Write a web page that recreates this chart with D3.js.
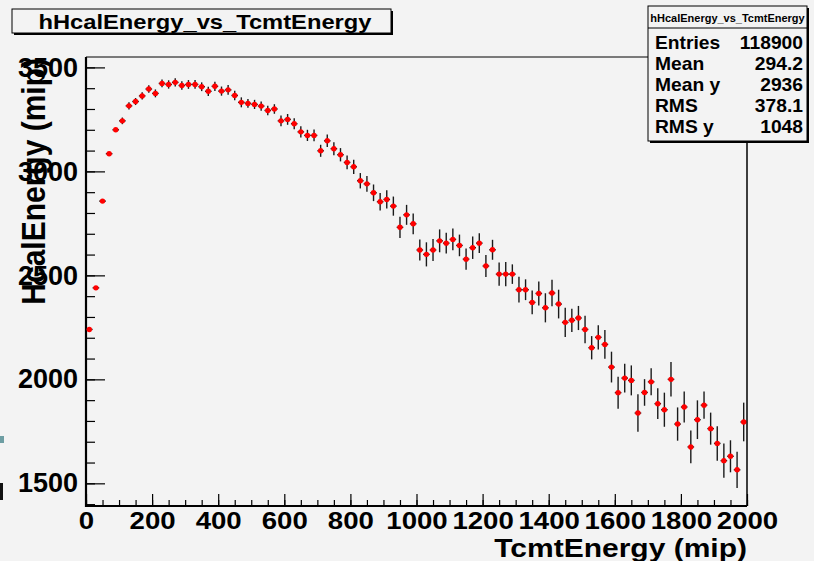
<!DOCTYPE html>
<html>
<head>
<meta charset="utf-8">
<script src="https://cdn.jsdelivr.net/npm/d3@7"></script>
<style>
  html, body { margin: 0; padding: 0; background: #f3f3f3; }
  svg { display: block; }
  text { font-family: "Liberation Sans", Arial, Helvetica, sans-serif; font-weight: bold; fill: #000; }
</style>
</head>
<body>
<svg id="chart" width="814" height="561"></svg>
<script>
// Profile of HcalEnergy vs TcmtEnergy: 100 bins of 20 mip from 0 to 2000
const binCenters = d3.range(100).map(i => 10 + 20 * i);
const binHalfWidth = 10;

const hcalMean = [
  2240, 2440, 2857, 3085, 3200, 3243, 3315, 3336, 3363, 3396,
  3375, 3423, 3418, 3428, 3413, 3418, 3418, 3407, 3385, 3409,
  3386, 3392, 3365, 3332, 3327, 3322, 3314, 3293, 3300, 3243,
  3250, 3229, 3190, 3173, 3173, 3099, 3147, 3109, 3080, 3043,
  3022, 2955, 2940, 2897, 2854, 2865, 2833, 2731, 2791, 2748,
  2622, 2601, 2622, 2666, 2655, 2673, 2644, 2578, 2633, 2655,
  2545, 2623, 2506, 2506, 2506, 2431, 2431, 2370, 2413, 2344,
  2415, 2362, 2274, 2284, 2295, 2240, 2152, 2202, 2168, 2059,
  1936, 2006, 1995, 1838, 1937, 1988, 1883, 1854, 2000, 1785,
  1867, 1675, 1806, 1876, 1763, 1692, 1609, 1630, 1565, 1795
];

const hcalErr = [
  5, 6, 6, 8, 8, 16, 17, 17, 17, 18,
  19, 19, 20, 20, 20, 21, 21, 21, 22, 22,
  22, 23, 23, 24, 21, 22, 22, 23, 23, 26,
  26, 26, 27, 27, 28, 29, 30, 31, 32, 33,
  34, 37, 38, 40, 42, 44, 46, 51, 48, 50,
  51, 58, 53, 55, 50, 52, 52, 51, 54, 47,
  53, 48, 56, 58, 47, 62, 50, 57, 58, 70,
  64, 69, 70, 56, 58, 66, 56, 58, 69, 74,
  77, 69, 72, 90, 64, 65, 74, 82, 83, 80,
  74, 79, 93, 66, 77, 83, 82, 77, 87, 93
];

const xTicks = [0, 200, 400, 600, 800, 1000, 1200, 1400, 1600, 1800, 2000];
const yTicks = [1500, 2000, 2500, 3000, 3500];

const histTitle = "hHcalEnergy_vs_TcmtEnergy";
const xTitle = "TcmtEnergy (mip)";
const yTitle = "HcalEnergy (mip)";
const statNames = ["Entries", "Mean", "Mean y", "RMS", "RMS y"];
const statValues = ["118900", "294.2", "2936", "378.1", "1048"];

const svg = d3.select("#chart");
const bg = "#f3f3f3";
svg.append("rect").attr("width", 814).attr("height", 561).attr("fill", bg);

// widen a text horizontally about its anchor point
function widen(sel, ax, s) {
  sel.attr("transform", `translate(${ax},0) scale(${s},1) translate(${-ax},0)`);
}

const frame = { left: 86, right: 747, top: 57, bottom: 506 };
const x = d3.scaleLinear().domain([0, 2000]).range([frame.left, frame.right]);
const y = d3.scaleLinear().domain([1391, 3550]).range([frame.bottom, frame.top]);

// frame border
svg.append("line").attr("x1", frame.left).attr("x2", frame.right)
  .attr("y1", frame.top).attr("y2", frame.top).attr("stroke", "#000").attr("stroke-width", 1);
svg.append("line").attr("x1", frame.right).attr("x2", frame.right)
  .attr("y1", frame.top).attr("y2", frame.bottom).attr("stroke", "#000").attr("stroke-width", 1.5);

// minor ticks
const yMinor = d3.axisLeft(y).tickValues(d3.range(1400, 3501, 100)).tickFormat("").tickSizeInner(-9).tickSizeOuter(0);
svg.append("g").attr("transform", `translate(${frame.left},0)`).call(yMinor)
  .call(g => g.select(".domain").remove())
  .call(g => g.selectAll("line").attr("stroke", "#000").attr("stroke-width", 1.2));
const xMinor = d3.axisBottom(x).tickValues(d3.range(0, 2001, 50)).tickFormat("").tickSizeInner(-6).tickSizeOuter(0);
svg.append("g").attr("transform", `translate(0,${frame.bottom})`).call(xMinor)
  .call(g => g.select(".domain").remove())
  .call(g => g.selectAll("line").attr("stroke", "#000").attr("stroke-width", 1.2));

// major ticks with labels
const yAxis = d3.axisLeft(y).tickValues(yTicks).tickFormat(d3.format("d")).tickSizeInner(-19).tickSizeOuter(0).tickPadding(8);
svg.append("g").attr("transform", `translate(${frame.left},0)`).call(yAxis)
  .call(g => g.select(".domain").remove())
  .call(g => g.selectAll("line").attr("stroke", "#000").attr("stroke-width", 1.2))
  .call(g => g.selectAll("text").attr("font-size", 27).attr("font-family", null).attr("fill", "#000"));
const xAxis = d3.axisBottom(x).tickValues(xTicks).tickFormat(d3.format("d")).tickSizeInner(-12).tickSizeOuter(0).tickPadding(6);
svg.append("g").attr("transform", `translate(0,${frame.bottom})`).call(xAxis)
  .call(g => g.select(".domain").remove())
  .call(g => g.selectAll("line").attr("stroke", "#000").attr("stroke-width", 1.2))
  .call(g => g.selectAll("text").attr("font-size", 24).attr("font-family", null).attr("fill", "#000")
    .call(t => widen(t, 0, 1.15)));

// axis lines
svg.append("line").attr("x1", frame.left).attr("x2", frame.left)
  .attr("y1", frame.top).attr("y2", frame.bottom + 1).attr("stroke", "#000").attr("stroke-width", 2.2);
svg.append("line").attr("x1", frame.left - 1).attr("x2", frame.right)
  .attr("y1", frame.bottom).attr("y2", frame.bottom).attr("stroke", "#000").attr("stroke-width", 2.2);

// profile points with error bars
const pts = binCenters.map((c, i) => ({ c, v: hcalMean[i], e: hcalErr[i] }));
const gp = svg.append("g");
gp.selectAll("line.ey").data(pts).join("line").attr("class", "ey")
  .attr("x1", d => x(d.c)).attr("x2", d => x(d.c))
  .attr("y1", d => y(d.v - d.e)).attr("y2", d => y(d.v + d.e))
  .attr("stroke", "#1a1a1a").attr("stroke-width", 1.4);
gp.selectAll("line.ex").data(pts).join("line").attr("class", "ex")
  .attr("x1", d => x(d.c - binHalfWidth)).attr("x2", d => x(d.c + binHalfWidth))
  .attr("y1", d => y(d.v)).attr("y2", d => y(d.v))
  .attr("stroke", "#1a1a1a").attr("stroke-width", 1.4);
gp.selectAll("circle").data(pts).join("circle")
  .attr("cx", d => x(d.c)).attr("cy", d => y(d.v)).attr("r", 2.7)
  .attr("fill", "#ff0000");

// axis titles
svg.append("text").attr("x", frame.right).attr("y", 557)
  .attr("text-anchor", "end").attr("font-size", 25).text(xTitle)
  .call(t => widen(t, frame.right, 1.2));
svg.append("text").attr("transform", "translate(45,58) scale(1.12,1) rotate(-90)")
  .attr("text-anchor", "end").attr("font-size", 30).text(yTitle);

// title box with shadow
svg.append("rect").attr("x", 14).attr("y", 11).attr("width", 379).attr("height", 24).attr("fill", "#000");
svg.append("rect").attr("x", 12).attr("y", 9).attr("width", 379).attr("height", 24)
  .attr("fill", bg).attr("stroke", "#000").attr("stroke-width", 1);
svg.append("text").attr("x", 205).attr("y", 29).attr("text-anchor", "middle")
  .attr("font-size", 21).text(histTitle)
  .call(t => widen(t, 205, 1.13));

// statistics box with shadow
const sb = { x: 648, y: 6, w: 159, h: 135 };
svg.append("rect").attr("x", sb.x + 2).attr("y", sb.y + 2).attr("width", sb.w).attr("height", sb.h).attr("fill", "#000");
svg.append("rect").attr("x", sb.x).attr("y", sb.y).attr("width", sb.w).attr("height", sb.h)
  .attr("fill", bg).attr("stroke", "#000").attr("stroke-width", 1);
svg.append("line").attr("x1", sb.x).attr("x2", sb.x + sb.w).attr("y1", 28).attr("y2", 28)
  .attr("stroke", "#000").attr("stroke-width", 1);
svg.append("text").attr("x", sb.x + sb.w / 2).attr("y", 22).attr("text-anchor", "middle")
  .attr("font-size", 10).text(histTitle)
  .call(t => widen(t, sb.x + sb.w / 2, 1.1));
const rowY = [49, 70, 91, 112, 133];
statNames.forEach((n, i) => {
  svg.append("text").attr("x", sb.x + 7).attr("y", rowY[i]).attr("font-size", 17.5).text(n)
    .call(t => widen(t, sb.x + 7, 1.1));
  svg.append("text").attr("x", sb.x + sb.w - 4).attr("y", rowY[i]).attr("text-anchor", "end")
    .attr("font-size", 17.5).text(statValues[i])
    .call(t => widen(t, sb.x + sb.w - 4, 1.1));
});

// slide fragments at the left edge
svg.append("rect").attr("x", 0).attr("y", 436).attr("width", 4).attr("height", 7).attr("fill", "#6e9ea3");
svg.append("rect").attr("x", 0).attr("y", 483).attr("width", 3).attr("height", 17).attr("fill", "#111");
</script>
</body>
</html>
